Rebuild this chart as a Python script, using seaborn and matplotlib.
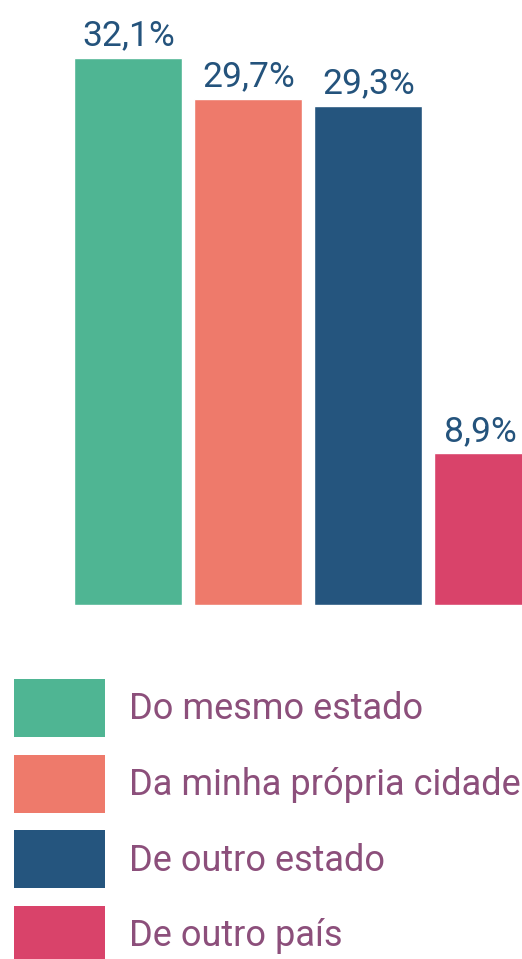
import matplotlib
matplotlib.use('Agg')
import matplotlib.pyplot as plt
from matplotlib.patches import Patch
import seaborn as sns
import pandas as pd

categories = ["Do mesmo estado", "Da minha própria cidade", "De outro estado", "De outro país"]
values = [32.1, 29.7, 29.3, 8.9]
value_labels = ["32,1%", "29,7%", "29,3%", "8,9%"]
colors = ["#4fb593", "#ee7a6b", "#25557e", "#d9436a"]

sns.set_theme(style="white")
plt.rcParams['font.family'] = ['Roboto', 'DejaVu Sans']

df = pd.DataFrame({'cat': categories, 'val': values})

W, H = 522, 959
fig = plt.figure(figsize=(W / 100, H / 100), dpi=100)
fig.patch.set_facecolor('white')

# bars area: baseline at y=605px from top, full width
ax = fig.add_axes([0, (H - 605) / H, 1, 605 / H])
sns.barplot(data=df, x='cat', y='val', hue='cat', palette=colors,
            order=categories, hue_order=categories, legend=False,
            width=0.9, saturation=1, ax=ax)

ax.set_xlim(-1.071, 3.281)
ax.set_ylim(0, 35.5)
ax.axis('off')

for cont, lab in zip(ax.containers, value_labels):
    txts = ax.bar_label(cont, labels=[lab], padding=4, fontsize=25.5, color='#24537c')
# last bar is cut by the right edge, nudge its label so it stays inside
txts[0].xyann = (-6, 4)

# legend (patch 91x58 px, rows every ~75.7 px)
handles = [Patch(facecolor=c, edgecolor='none') for c in colors]
fs = 26
px = fs * 100 / 72
hh = (58 / px - 0.245) / 0.65
fig.legend(handles, categories, loc='upper left',
           bbox_to_anchor=(14 / W, 1 - 679 / H), bbox_transform=fig.transFigure,
           frameon=False, fontsize=fs, borderpad=0, borderaxespad=0,
           handlelength=91 / px, handleheight=hh,
           labelspacing=(75.7 - 58) / px, handletextpad=24 / px,
           labelcolor='#8c4f7b')

fig.savefig('out.png', dpi=100, facecolor='white')
